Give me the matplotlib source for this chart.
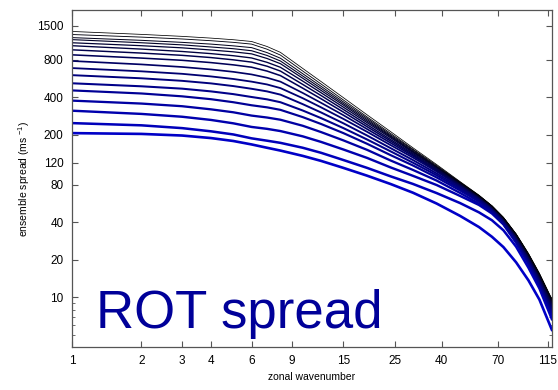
import numpy as np
import matplotlib
matplotlib.use('Agg')
import matplotlib.pyplot as plt
from matplotlib.ticker import FixedLocator, NullFormatter

plt.rcParams['font.family'] = ['Liberation Sans', 'DejaVu Sans']
plt.rcParams['mathtext.fontset'] = 'custom'
plt.rcParams['mathtext.rm'] = 'Liberation Sans'
plt.rcParams['mathtext.it'] = 'Liberation Sans'

wavenumber = [1, 2, 3, 4, 5, 6, 7, 8, 10, 12, 15, 19, 24, 30, 38, 48, 58, 66, 74, 84, 95, 106, 120]

# ensemble spread per curve, lowest (thick blue) first, top (thin black) last
curve_00 = [207, 204, 198, 189, 179, 168, 158, 150, 136, 124, 109, 94.4, 81, 69, 56.5, 45, 36.6, 30.6, 25.3, 19.1, 13.7, 9.6, 5.5]
curve_01 = [249, 239, 227, 214, 202, 188, 180, 173, 158, 144, 126, 109, 93.3, 81.1, 68.5, 57, 48, 41.5, 34.5, 25.5, 17.3, 11.8, 6.7]
curve_02 = [313, 295, 280, 264, 248, 232, 224, 215, 195, 176, 153, 131, 110, 94.2, 79.5, 65, 55, 47, 38.5, 27.5, 18.6, 12.4, 7.1]
curve_03 = [377, 357, 340, 321, 304, 286, 276, 265, 237, 211, 181, 152, 125, 105, 86.3, 68.7, 56.4, 47.8, 38.6, 27.7, 18.8, 12.7, 7.4]
curve_04 = [455, 430, 408, 387, 366, 346, 333, 318, 278, 245, 207, 170, 138, 114, 91.4, 71.9, 58.5, 49.3, 39.7, 28.4, 19.4, 13.1, 7.7]
curve_05 = [519, 491, 470, 447, 425, 403, 386, 366, 314, 273, 227, 184, 148, 120, 95.1, 74, 59.7, 50.2, 40.4, 29, 19.7, 13.4, 7.9]
curve_06 = [603, 569, 543, 518, 493, 469, 447, 421, 353, 303, 248, 198, 157, 126, 98.4, 75.9, 61, 51.1, 41.1, 29.6, 20.1, 13.7, 8.1]
curve_07 = [687, 647, 618, 589, 562, 535, 508, 475, 394, 333, 269, 212, 166, 132, 102, 77.6, 61.9, 51.8, 41.6, 30.1, 20.5, 14, 8.3]
curve_08 = [783, 735, 701, 670, 641, 611, 575, 535, 434, 362, 288, 223, 173, 136, 104, 78.9, 62.7, 52.2, 42.1, 30.4, 20.8, 14.2, 8.5]
curve_09 = [877, 826, 793, 760, 729, 698, 650, 598, 474, 390, 305, 233, 179, 139, 105, 79.8, 63.2, 52.6, 42.4, 30.8, 21.1, 14.4, 8.7]
curve_10 = [962, 906, 869, 834, 800, 767, 711, 650, 508, 414, 320, 242, 184, 142, 107, 80.5, 63.7, 53, 42.7, 31, 21.4, 14.7, 8.9]
curve_11 = [1038, 975, 933, 897, 863, 828, 764, 697, 540, 436, 334, 251, 190, 145, 109, 81.5, 64.3, 53.2, 43, 31.3, 21.6, 14.8, 9.1]
curve_12 = [1096, 1038, 998, 959, 927, 893, 820, 745, 569, 455, 347, 258, 194, 147, 110, 82, 64.6, 53.5, 43.2, 31.6, 21.8, 15, 9.2]
curve_13 = [1161, 1096, 1054, 1014, 982, 946, 867, 783, 593, 473, 357, 265, 197, 149, 111, 82.6, 64.9, 53.6, 43.3, 31.8, 22, 15.2, 9.4]
curve_14 = [1205, 1146, 1104, 1069, 1035, 1002, 914, 824, 619, 491, 368, 272, 201, 152, 112, 83.2, 65.2, 53.8, 43.4, 31.9, 22.2, 15.3, 9.5]
curve_15 = [1276, 1216, 1175, 1138, 1104, 1069, 973, 873, 650, 512, 381, 279, 206, 154, 114, 83.8, 65.5, 54, 43.6, 32.1, 22.3, 15.4, 9.6]
curve_16 = [1350, 1279, 1233, 1194, 1159, 1122, 1023, 918, 682, 536, 398, 290, 213, 158, 116, 84.7, 65.9, 54.2, 43.8, 32.3, 22.5, 15.6, 9.7]

xticks = [1, 2, 3, 4, 6, 9, 15, 25, 40, 70, 115]
yticks = [10, 20, 40, 80, 120, 200, 400, 800, 1500]

curves = [curve_00, curve_01, curve_02, curve_03, curve_04, curve_05, curve_06, curve_07,
          curve_08, curve_09, curve_10, curve_11, curve_12, curve_13, curve_14, curve_15,
          curve_16]

fig = plt.figure(figsize=(5.58, 3.90), dpi=100)
ax = fig.add_axes([0.129, 0.110, 0.860, 0.864])

# blue & thick at the bottom, fading to thin black at the top
n = len(curves)
for i, c in enumerate(curves):
    t = i / (n - 1)
    ax.plot(wavenumber, c, '-', color=(0, 0, 0.78 * (1 - t)),
            lw=1.9 * (1 - t) + 0.55 * t)

ax.set_xscale('log')
ax.set_yscale('log')
ax.set_xlim(1, 120)
ax.set_ylim(4, 2000)

ax.xaxis.set_major_locator(FixedLocator(xticks))
ax.xaxis.set_minor_locator(FixedLocator([]))
ax.set_xticklabels([str(v) for v in xticks])
ax.yaxis.set_major_locator(FixedLocator(yticks))
ax.yaxis.set_minor_locator(FixedLocator([5, 6, 7, 8, 9]))
ax.yaxis.set_minor_formatter(NullFormatter())
ax.set_yticklabels([str(v) for v in yticks])

ax.tick_params(which='both', direction='in', top=True, right=True,
               labelsize=8.5, color='#555555', pad=6)
ax.tick_params(which='major', length=4)
ax.tick_params(which='minor', length=2.5)
for s in ax.spines.values():
    s.set_color('#555555')
    s.set_linewidth(0.9)

ax.set_xlabel('zonal wavenumber', fontsize=7.5, labelpad=3)
ax.set_ylabel(r'ensemble spread (ms $^{-1}$)', fontsize=7.5, labelpad=4)

ax.text(0.05, 0.056, 'ROT spread', transform=ax.transAxes, fontsize=38,
        color='#000099', ha='left', va='baseline')

fig.savefig('out.png', dpi=100)
